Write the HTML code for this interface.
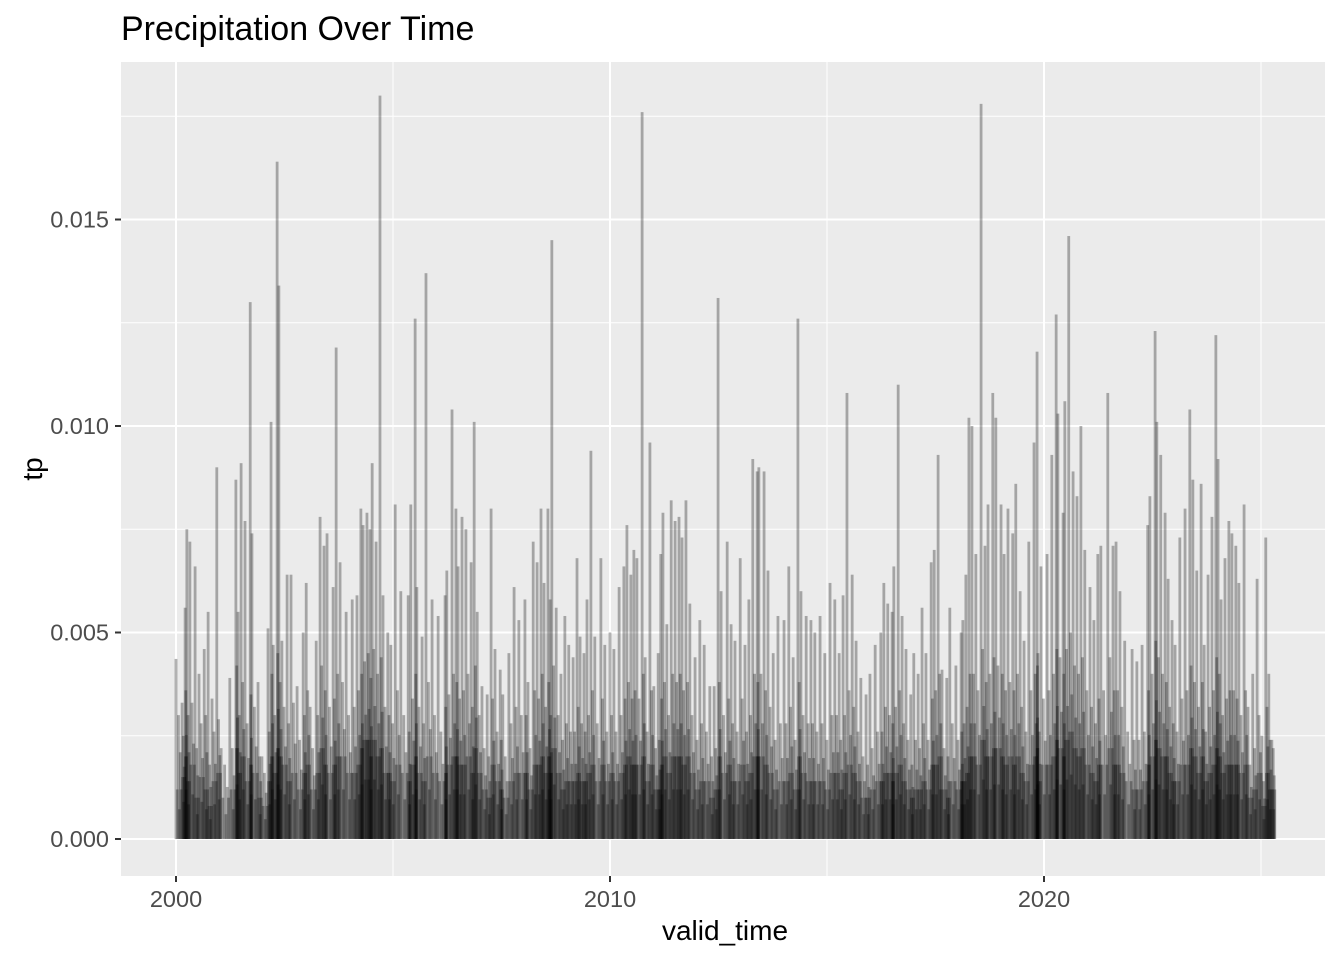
<!DOCTYPE html>
<html><head><meta charset="utf-8">
<style>
body{margin:0;background:#fff;}
svg{display:block;font-family:"Liberation Sans",Arial,sans-serif;}
</style></head>
<body>
<svg id="chart" width="1344" height="960">
  <text x="121" y="40" font-size="34" fill="#000">Precipitation Over Time</text>
  <rect x="121" y="62" width="1204" height="814" fill="#EBEBEB"/>
  <g id="grid"></g>
  <g id="bars"></g>
  <g id="axes"></g>
  <text x="725" y="940" font-size="28" text-anchor="middle" fill="#000">valid_time</text>
  <text transform="translate(42,469) rotate(-90)" font-size="28" text-anchor="middle" fill="#000">tp</text>
</svg>
<script>
const yTicks=[0,0.005,0.010,0.015];
const yTickLabels=["0.000","0.005","0.010","0.015"];
const xTicks=[2000,2010,2020];
const xTickLabels=["2000","2010","2020"];
const times=[0.00,0.14,0.21,0.25,0.32,0.44,0.53,0.65,0.74,0.83,0.94,1.04,1.24,1.38,1.43,1.50,1.59,1.71,1.75,1.89,1.98,2.12,2.19,2.24,2.33,2.37,2.44,2.56,2.65,2.79,2.93,3.00,3.09,3.23,3.32,3.41,3.48,3.62,3.69,3.78,3.92,4.06,4.17,4.26,4.31,4.40,4.47,4.52,4.61,4.70,4.77,4.88,4.95,5.05,5.18,5.35,5.41,5.51,5.55,5.67,5.76,5.90,6.04,6.20,6.24,6.36,6.45,6.50,6.59,6.68,6.80,6.87,6.94,7.05,7.17,7.26,7.35,7.47,7.53,7.67,7.79,7.90,8.04,8.11,8.23,8.32,8.41,8.48,8.57,8.62,8.66,8.76,8.87,8.96,9.05,9.15,9.24,9.31,9.40,9.47,9.56,9.65,9.79,9.88,10.00,10.09,10.21,10.32,10.39,10.48,10.55,10.62,10.74,10.81,10.92,11.01,11.11,11.17,11.22,11.31,11.41,11.50,11.59,11.66,11.75,11.84,11.96,12.07,12.17,12.30,12.40,12.49,12.56,12.70,12.79,12.88,13.00,13.11,13.20,13.29,13.39,13.43,13.55,13.64,13.76,13.87,14.01,14.12,14.22,14.33,14.40,14.52,14.63,14.72,14.84,14.95,15.07,15.18,15.28,15.37,15.46,15.58,15.67,15.78,15.90,15.99,16.11,16.24,16.31,16.40,16.50,16.54,16.64,16.73,16.82,16.93,17.00,17.10,17.19,17.28,17.40,17.47,17.56,17.65,17.76,17.83,17.97,18.09,18.13,18.20,18.27,18.34,18.43,18.55,18.64,18.71,18.82,18.89,19.01,19.08,19.17,19.28,19.35,19.45,19.54,19.65,19.77,19.84,19.86,19.93,20.07,20.18,20.28,20.32,20.44,20.48,20.57,20.67,20.76,20.85,20.94,21.06,21.15,21.24,21.31,21.47,21.59,21.66,21.75,21.86,22.03,22.14,22.26,22.39,22.44,22.56,22.60,22.69,22.79,22.86,22.95,23.02,23.13,23.25,23.36,23.43,23.52,23.62,23.69,23.78,23.87,23.96,24.01,24.08,24.17,24.26,24.33,24.42,24.49,24.61,24.70,24.81,24.91,25.02,25.11,25.18,25.25];
const peakTp=[0.00436,0.0033,0.0056,0.0075,0.0072,0.0066,0.0040,0.0046,0.0055,0.0034,0.0090,0.0022,0.0039,0.0087,0.0055,0.0091,0.0077,0.0130,0.0074,0.0038,0.0020,0.0051,0.0101,0.0047,0.0164,0.0134,0.0048,0.0064,0.0064,0.0037,0.0050,0.0062,0.0032,0.0048,0.0078,0.0071,0.0074,0.0061,0.0119,0.0067,0.0055,0.0058,0.0059,0.0080,0.0076,0.0079,0.0075,0.0091,0.0072,0.0180,0.0059,0.0050,0.0047,0.0081,0.0060,0.0059,0.0081,0.0126,0.0061,0.0049,0.0137,0.0058,0.0054,0.0059,0.0065,0.0104,0.0080,0.0066,0.0078,0.0075,0.0067,0.0101,0.0055,0.0037,0.0035,0.0080,0.0046,0.0041,0.0035,0.0045,0.0061,0.0053,0.0058,0.0038,0.0072,0.0067,0.0080,0.0062,0.0080,0.0058,0.0145,0.0056,0.0040,0.0054,0.0047,0.0044,0.0068,0.0049,0.0045,0.0058,0.0094,0.0049,0.0068,0.0047,0.0050,0.0046,0.0061,0.0066,0.0076,0.0064,0.0070,0.0068,0.0176,0.0044,0.0096,0.0037,0.0045,0.0069,0.0079,0.0052,0.0082,0.0077,0.0078,0.0073,0.0082,0.0057,0.0044,0.0053,0.0047,0.0037,0.0037,0.0131,0.0060,0.0072,0.0052,0.0048,0.0068,0.0047,0.0058,0.0092,0.0089,0.0090,0.0089,0.0065,0.0045,0.0054,0.0053,0.0066,0.0044,0.0126,0.0060,0.0054,0.0053,0.0050,0.0054,0.0045,0.0062,0.0058,0.0045,0.0059,0.0108,0.0064,0.0048,0.0039,0.0035,0.0040,0.0047,0.0050,0.0062,0.0057,0.0055,0.0066,0.0110,0.0054,0.0046,0.0035,0.0045,0.0040,0.0056,0.0045,0.0067,0.0070,0.0093,0.0041,0.0039,0.0056,0.0042,0.0050,0.0053,0.0064,0.0102,0.0100,0.0069,0.0178,0.0071,0.0081,0.0108,0.0102,0.0081,0.0069,0.0080,0.0074,0.0086,0.0060,0.0048,0.0072,0.0096,0.0118,0.0045,0.0066,0.0069,0.0093,0.0127,0.0103,0.0079,0.0106,0.0146,0.0089,0.0083,0.0100,0.0070,0.0061,0.0053,0.0069,0.0071,0.0108,0.0071,0.0072,0.0060,0.0048,0.0046,0.0043,0.0047,0.0076,0.0083,0.0123,0.0101,0.0093,0.0079,0.0063,0.0053,0.0047,0.0073,0.0080,0.0104,0.0087,0.0065,0.0086,0.0047,0.0064,0.0078,0.0122,0.0092,0.0058,0.0068,0.0077,0.0074,0.0071,0.0062,0.0081,0.0032,0.0040,0.0063,0.0025,0.0073,0.0040,0.0024];
const midTp=[0.0030,0.0025,0.0036,0.0030,0.0033,0.0022,0.0028,0.0030,0.0018,0.0026,0.0029,0.0018,0.0022,0.0042,0.0030,0.0038,0.0028,0.0035,0.0032,0.0020,0.0016,0.0026,0.0040,0.0030,0.0045,0.0038,0.0032,0.0028,0.0033,0.0024,0.0030,0.0036,0.0022,0.0030,0.0042,0.0036,0.0032,0.0034,0.0040,0.0038,0.0030,0.0032,0.0036,0.0040,0.0043,0.0045,0.0039,0.0046,0.0040,0.0044,0.0032,0.0030,0.0028,0.0036,0.0030,0.0026,0.0034,0.0040,0.0032,0.0028,0.0038,0.0030,0.0026,0.0032,0.0035,0.0040,0.0038,0.0034,0.0036,0.0040,0.0032,0.0042,0.0030,0.0022,0.0020,0.0034,0.0026,0.0024,0.0020,0.0028,0.0032,0.0030,0.0030,0.0022,0.0036,0.0034,0.0040,0.0032,0.0038,0.0030,0.0042,0.0030,0.0024,0.0028,0.0026,0.0026,0.0032,0.0028,0.0026,0.0030,0.0036,0.0028,0.0034,0.0026,0.0030,0.0026,0.0030,0.0034,0.0038,0.0034,0.0036,0.0034,0.0040,0.0026,0.0036,0.0022,0.0024,0.0034,0.0038,0.0030,0.0040,0.0038,0.0040,0.0036,0.0038,0.0030,0.0024,0.0028,0.0026,0.0020,0.0022,0.0038,0.0030,0.0034,0.0028,0.0026,0.0034,0.0026,0.0030,0.0040,0.0038,0.0040,0.0036,0.0032,0.0024,0.0028,0.0028,0.0032,0.0024,0.0038,0.0030,0.0028,0.0028,0.0026,0.0028,0.0024,0.0030,0.0030,0.0024,0.0030,0.0036,0.0032,0.0026,0.0020,0.0018,0.0022,0.0026,0.0026,0.0032,0.0030,0.0028,0.0032,0.0036,0.0028,0.0024,0.0018,0.0024,0.0022,0.0028,0.0024,0.0034,0.0036,0.0040,0.0022,0.0020,0.0028,0.0024,0.0026,0.0028,0.0032,0.0040,0.0040,0.0036,0.0046,0.0038,0.0040,0.0044,0.0042,0.0040,0.0036,0.0038,0.0036,0.0040,0.0032,0.0026,0.0036,0.0040,0.0042,0.0026,0.0034,0.0036,0.0040,0.0046,0.0044,0.0040,0.0046,0.0050,0.0042,0.0040,0.0044,0.0036,0.0032,0.0028,0.0034,0.0036,0.0044,0.0036,0.0036,0.0032,0.0026,0.0024,0.0024,0.0026,0.0036,0.0040,0.0048,0.0044,0.0040,0.0038,0.0032,0.0028,0.0026,0.0034,0.0036,0.0042,0.0038,0.0032,0.0038,0.0026,0.0032,0.0036,0.0044,0.0040,0.0030,0.0034,0.0036,0.0036,0.0034,0.0030,0.0036,0.0018,0.0022,0.0030,0.0014,0.0032,0.0024,0.0022];
const lowTp=[0.0012,0.0015,0.0020,0.0014,0.0018,0.0010,0.0015,0.0012,0.0008,0.0014,0.0016,0.0010,0.0012,0.0022,0.0016,0.0020,0.0014,0.0018,0.0016,0.0010,0.0008,0.0014,0.0020,0.0016,0.0022,0.0020,0.0018,0.0014,0.0016,0.0012,0.0016,0.0018,0.0012,0.0016,0.0022,0.0018,0.0016,0.0018,0.0020,0.0020,0.0016,0.0016,0.0018,0.0022,0.0024,0.0024,0.0020,0.0024,0.0020,0.0022,0.0016,0.0016,0.0014,0.0018,0.0016,0.0014,0.0018,0.0020,0.0016,0.0014,0.0020,0.0016,0.0014,0.0016,0.0018,0.0020,0.0020,0.0018,0.0018,0.0020,0.0016,0.0022,0.0016,0.0012,0.0010,0.0018,0.0014,0.0012,0.0010,0.0014,0.0016,0.0016,0.0016,0.0012,0.0018,0.0018,0.0020,0.0016,0.0020,0.0016,0.0022,0.0016,0.0012,0.0014,0.0014,0.0014,0.0016,0.0014,0.0014,0.0016,0.0018,0.0014,0.0018,0.0014,0.0016,0.0014,0.0016,0.0018,0.0020,0.0018,0.0018,0.0018,0.0020,0.0014,0.0018,0.0012,0.0012,0.0018,0.0020,0.0016,0.0020,0.0020,0.0020,0.0018,0.0020,0.0016,0.0012,0.0014,0.0014,0.0010,0.0012,0.0020,0.0016,0.0018,0.0014,0.0014,0.0018,0.0014,0.0016,0.0020,0.0020,0.0020,0.0018,0.0016,0.0012,0.0014,0.0014,0.0016,0.0012,0.0020,0.0016,0.0014,0.0014,0.0014,0.0014,0.0012,0.0016,0.0016,0.0012,0.0016,0.0018,0.0016,0.0014,0.0010,0.0010,0.0012,0.0014,0.0014,0.0016,0.0016,0.0014,0.0016,0.0018,0.0014,0.0012,0.0010,0.0012,0.0012,0.0014,0.0012,0.0018,0.0018,0.0020,0.0012,0.0010,0.0014,0.0012,0.0014,0.0014,0.0016,0.0020,0.0020,0.0018,0.0024,0.0020,0.0020,0.0022,0.0022,0.0020,0.0018,0.0020,0.0018,0.0020,0.0016,0.0014,0.0018,0.0020,0.0022,0.0014,0.0018,0.0018,0.0020,0.0024,0.0022,0.0020,0.0024,0.0026,0.0022,0.0020,0.0022,0.0018,0.0016,0.0014,0.0018,0.0018,0.0022,0.0018,0.0018,0.0016,0.0014,0.0012,0.0012,0.0014,0.0018,0.0020,0.0024,0.0022,0.0020,0.0020,0.0016,0.0014,0.0014,0.0018,0.0018,0.0022,0.0020,0.0016,0.0020,0.0014,0.0016,0.0018,0.0022,0.0020,0.0016,0.0018,0.0018,0.0018,0.0018,0.0016,0.0018,0.0010,0.0012,0.0016,0.0008,0.0016,0.0012,0.0012];

const NS='http://www.w3.org/2000/svg';
const X0=121,X1=1325,Y0=62,Y1=876;
function xs(yr){return 176+(yr-2000)*43.4;}
function ys(v){return 839-v*41300;}
const grid=document.getElementById('grid'),bars=document.getElementById('bars'),axes=document.getElementById('axes');
function ln(p,x1,y1,x2,y2,c,w){const l=document.createElementNS(NS,'line');l.setAttribute('x1',x1);l.setAttribute('y1',y1);l.setAttribute('x2',x2);l.setAttribute('y2',y2);l.setAttribute('stroke',c);l.setAttribute('stroke-width',w);p.appendChild(l);return l;}
for(let i=0;i<yTicks.length;i++){const l=ln(grid,X0,ys(yTicks[i]+0.0025),X1,ys(yTicks[i]+0.0025),'#fff',1);

}
for(let i=0;i<xTicks.length;i++){const l=ln(grid,xs(xTicks[i]+5),Y0,xs(xTicks[i]+5),Y1,'#fff',1);

}
for(let i=0;i<yTicks.length;i++){const y=ys(yTicks[i]);const l=ln(grid,X0,y,X1,y,'#fff',2);


const t=ln(axes,X0-6,y,X0,y,'#333',2);


const tx=document.createElementNS(NS,'text');tx.setAttribute('x',X0-12);tx.setAttribute('y',y+8);tx.setAttribute('text-anchor','end');tx.setAttribute('font-size','23.5');tx.setAttribute('fill','#4D4D4D');tx.textContent=yTickLabels[i];


axes.appendChild(tx);}
for(let i=0;i<xTicks.length;i++){const x=xs(xTicks[i]);const l=ln(grid,x,Y0,x,Y1,'#fff',2);


const t=ln(axes,x,Y1,x,Y1+6,'#333',2);


const tx=document.createElementNS(NS,'text');tx.setAttribute('x',x);tx.setAttribute('y',Y1+31);tx.setAttribute('text-anchor','middle');tx.setAttribute('font-size','23.5');tx.setAttribute('fill','#4D4D4D');tx.textContent=xTickLabels[i];


axes.appendChild(tx);}
function bar(t,v,name){if(v===undefined||t===undefined)return;const x=xs(2000+t);const r=document.createElementNS(NS,'rect');r.setAttribute('x',x-1.4);r.setAttribute('y',ys(v));r.setAttribute('width',2.8);r.setAttribute('height',Math.max(0,ys(0)-ys(v)));r.setAttribute('fill','#000');r.setAttribute('fill-opacity','0.3');


bars.appendChild(r);}
for(let i=0;i<times.length;i++){
  const tn=i+1<times.length?times[i+1]:times[i]+0.08;
  const gap=tn-times[i];
  bar(times[i],peakTp[i],'precip-bar');
  bar(times[i]+gap*0.2,lowTp[i],'precip-bar-low');
  bar(times[i]+gap*0.4,midTp[i],'precip-bar-mid');
  bar(times[i]+gap*0.55,lowTp[i]*0.6,'precip-bar-low');
  bar(times[i]+gap*0.7,midTp[i]*0.7,'precip-bar-mid');
  bar(times[i]+gap*0.85,lowTp[i],'precip-bar-low');
}
</script>
</body></html>
